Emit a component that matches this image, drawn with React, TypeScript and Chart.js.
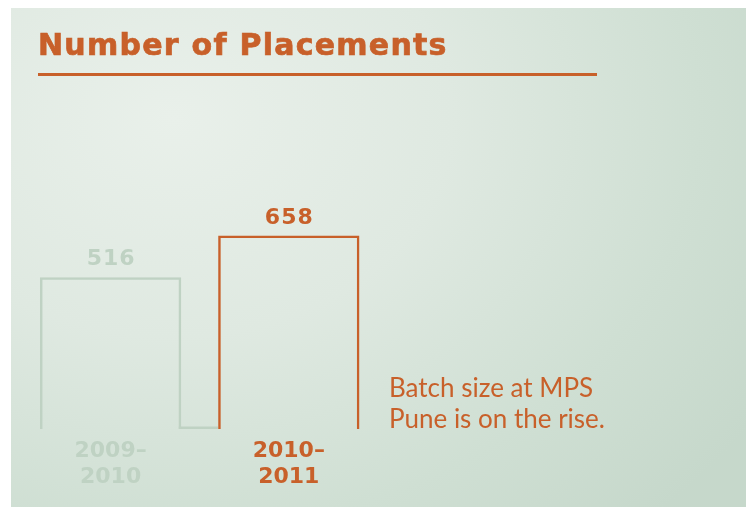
import React, { useEffect, useRef } from "react";
import { Chart, registerables } from "chart.js";

Chart.register(...registerables);

const categories = [["2009–", "2010"], ["2010–", "2011"]];
const placements = [516, 658];
const barColors = ["#bfd2c3", "#c8602a"];
const chartTitle = "Number of Placements";
const noteLines = ["Batch size at MPS", "Pune is on the rise."];

const ORANGE = "#c8602a";
const LINE_W = 2.5;

const overlayPlugin = {
  id: "overlay",
  beforeDatasetsDraw(chart: any) {
    const meta = chart.getDatasetMeta(0);
    const ctx = chart.ctx;
    const y0 = chart.scales.y.getPixelForValue(0);
    const b0 = meta.data[0];
    const b1 = meta.data[1];
    ctx.save();
    ctx.strokeStyle = barColors[0];
    ctx.lineWidth = LINE_W;
    ctx.beginPath();
    ctx.moveTo(b0.x + b0.width / 2 - LINE_W, y0 - LINE_W / 2);
    ctx.lineTo(b1.x - b1.width / 2, y0 - LINE_W / 2);
    ctx.stroke();
    ctx.restore();
  },
  afterDatasetsDraw(chart: any) {
    const meta = chart.getDatasetMeta(0);
    const ctx = chart.ctx;
    ctx.save();
    ctx.font = "bold 22px 'DejaVu Sans'";
    ctx.textAlign = "center";
    ctx.textBaseline = "alphabetic";
    try {
      (ctx as any).letterSpacing = "1px";
    } catch (e) {}
    meta.data.forEach((bar: any, i: number) => {
      ctx.fillStyle = barColors[i];
      ctx.fillText(String(placements[i]), bar.x + 0.5, bar.y - 12);
    });
    ctx.restore();
  },
};

export default function App() {
  const ref = useRef<HTMLCanvasElement>(null);
  useEffect(() => {
    if (!ref.current) return;
    const chart = new Chart(ref.current, {
      type: "bar",
      data: {
        labels: categories,
        datasets: [
          {
            data: placements,
            backgroundColor: "rgba(0,0,0,0)",
            borderColor: barColors,
            borderWidth: LINE_W,
            borderSkipped: "bottom",
            barPercentage: 0.793,
            categoryPercentage: 1,
          },
        ],
      },
      options: {
        responsive: false,
        animation: false,
        layout: { padding: { left: 10.5, right: 368.1, top: 127, bottom: 0 } },
        plugins: {
          legend: { display: false },
          tooltip: { enabled: false },
          title: { display: false },
        },
        scales: {
          x: {
            grid: { display: false, drawTicks: false },
            border: { display: false },
            afterFit: (s: any) => {
              s.height = 78;
            },
            ticks: {
              autoSkip: false,
              maxRotation: 0,
              minRotation: 0,
              padding: 9,
              font: { family: "'DejaVu Sans'", weight: "bold", size: 22, lineHeight: 1.18 },
              color: (c: any) => barColors[c.index] || ORANGE,
            },
          },
          y: {
            display: false,
            min: 0,
            max: 1000,
          },
        },
      },
      plugins: [overlayPlugin],
    });
    return () => chart.destroy();
  }, []);

  return (
    <div
      style={{
        position: "fixed",
        left: 11,
        top: 8,
        width: 735,
        height: 499,
        overflow: "hidden",
        background:
          "radial-gradient(ellipse 95% 110% at 22% 22%, #e9f0ea 0%, #dfe9e1 40%, #cfdfd3 75%, #c6d8cb 100%)",
      }}
    >
      <canvas ref={ref} width={735} height={499} style={{ position: "absolute", left: 0, top: 0 }} />
      <div
        style={{
          position: "absolute",
          left: 27,
          top: 21.5,
          fontFamily: "'DejaVu Sans'",
          fontWeight: "bold",
          fontSize: 30,
          lineHeight: "30px",
          letterSpacing: "1.25px",
          WebkitTextStroke: "0.7px " + ORANGE,
          color: ORANGE,
          whiteSpace: "nowrap",
        }}
      >
        {chartTitle}
      </div>
      <div
        style={{
          position: "absolute",
          left: 27,
          top: 64.7,
          width: 559,
          height: 3,
          background: ORANGE,
        }}
      />
      <div
        style={{
          position: "absolute",
          left: 378,
          top: 363.6,
          fontFamily: "Lato",
          fontSize: 26,
          lineHeight: "31px",
          color: ORANGE,
          whiteSpace: "nowrap",
        }}
      >
        {noteLines.map((l, i) => (
          <div key={i}>{l}</div>
        ))}
      </div>
    </div>
  );
}
